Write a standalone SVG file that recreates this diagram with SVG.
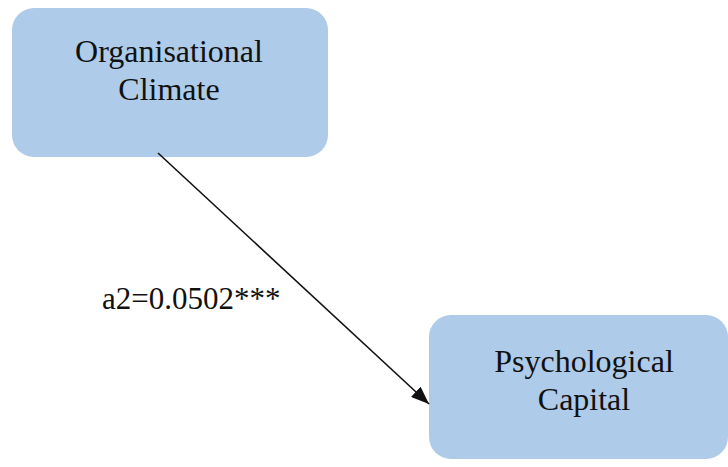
<svg xmlns="http://www.w3.org/2000/svg" width="728" height="467" viewBox="0 0 728 467">
  <style>
    .box { fill: #aecbe9; }
    .lbl { font-family: 'Liberation Serif', 'Times New Roman', Times, serif; font-size: 32px; fill: #111; text-anchor: middle; }
    .path-lbl { font-family: 'Liberation Serif', 'Times New Roman', Times, serif; font-size: 31px; fill: #111; }
    .edge { stroke: #111; stroke-width: 1.6; fill: none; }
  </style>
  <defs>
    <marker id="arrow" viewBox="0 0 18 14" refX="18" refY="7" markerWidth="18" markerHeight="14" markerUnits="userSpaceOnUse" orient="auto">
      <path d="M0,0 L18,7 L0,14 z" fill="#111"/>
    </marker>
  </defs>
  <rect width="728" height="467" fill="#ffffff"/>

  <g id="organisational-climate">
    <rect class="box" x="12" y="8" width="316" height="149" rx="22" ry="22"/>
    <text class="lbl" x="169" y="62">Organisational</text>
    <text class="lbl" x="169" y="100">Climate</text>
  </g>

  <g id="psychological-capital">
    <rect class="box" x="429" y="315" width="299" height="144" rx="22" ry="22"/>
    <text class="lbl" x="584" y="372">Psychological</text>
    <text class="lbl" x="584" y="410">Capital</text>
  </g>

  <g id="connectors">
    <line class="edge" x1="158" y1="153" x2="429" y2="404" marker-end="url(#arrow)"/>
    <text class="path-lbl" x="102" y="309">a2=0.0502***</text>
  </g>
</svg>
